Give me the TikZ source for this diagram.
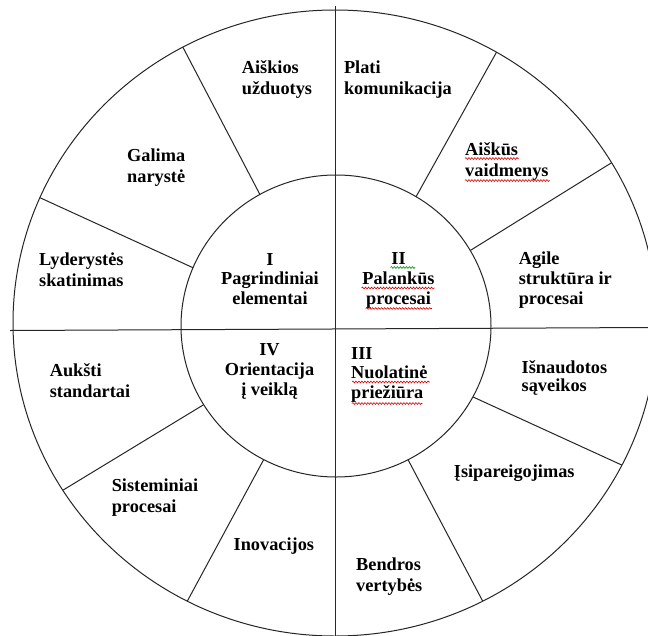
\documentclass[tikz,border=0pt]{standalone}
\usepackage{fontspec}
\setmainfont{Liberation Serif}
\usetikzlibrary{calc,decorations.pathmorphing}
\begin{document}
\begin{tikzpicture}[x=1pt,y=-1pt,
  rim/.style={line width=1pt, draw=black!85},
  lbl/.style={font=\fontsize{18.3}{21}\selectfont\bfseries, align=left,
              anchor=base west, inner sep=0pt, text=black},
  tight/.style={font=\fontsize{18.3}{19.6}\selectfont\bfseries},
  clbl/.style={lbl, tight, align=center, anchor=base},
  spell/.style={draw=red!85!black, line width=0.6pt, decorate,
                decoration={snake, amplitude=0.9pt, segment length=3pt}},
  gram/.style={spell, draw=green!55!black}]
\useasboundingbox (0,0) rectangle (648,635);
\clip (0,0) rectangle (648,635);
\fill[white] (0,0) rectangle (648,635);

% centres of the two rings
\coordinate (O) at (335,323);
\coordinate (C) at (336,326);

% outer and inner rings
\draw[rim] (O) ellipse [x radius=322, y radius=313];
\draw[rim] (C) ellipse [x radius=155, y radius=151];

% the two axes splitting the wheel into quadrants
\coordinate (axtop) at (335,6);
\coordinate (axbot) at (335,640);
\coordinate (axl) at (10,330.5);
\coordinate (axr) at (652,327.5);
\draw[rim] (axtop) -- (axbot);
\draw[rim] (axl) -- (axr);

% spokes between the rings: inner angle / outer angle
\foreach \n/\a/\b in {1/119.4/118.2, 2/157.3/156.4, 3/58.9/59.9, 4/30/30.8,
                      5/-28/-27, 6/-62.3/-62.7, 7/211.4/212.3, 8/242.2/242.7}{
  \coordinate (in\n) at ({336+155*cos(\a)},{326-151*sin(\a)});
  \coordinate (out\n) at ({335+322*cos(\b)},{323-313*sin(\b)});
  \draw[rim] (in\n) -- (out\n);
}

% outer ring labels (placed by the baseline of their last line)
\node[lbl] (aiskios) at (241.7,94.3) {Aiškios\\užduotys};
\node[lbl] (plati)   at (343.8,94.3) {Plati\\komunikacija};
\node[lbl] (galima)  at (127,182.7)  {Galima\\narystė};
\node[lbl] (aiskus)  at (465,176.7)  {Aiškūs\\vaidmenys};
\node[lbl] (lyder)   at (39,286.7)   {Lyderystės\\skatinimas};
\node[lbl,tight] (agile) at (518.6,304) {Agile\\struktūra ir\\procesai};
\node[lbl] (auksti)  at (49.6,397.7) {Aukšti\\standartai};
\node[lbl,font=\fontsize{18.3}{18.6}\selectfont\bfseries] (isnaud) at (521.5,391.7) {Išnaudotos\\sąveikos};
\node[lbl] (sistem)  at (111.6,512.3) {Sisteminiai\\procesai};
\node[lbl] (isipar)  at (453.7,477.3) {Įsipareigojimas};
\node[lbl] (inov)    at (233.5,550)  {Inovacijos};
\node[lbl] (bendros) at (356,591)    {Bendros\\vertybės};

% inner quadrant labels
\node[clbl] (q1) at (270,304.3)   {I\\Pagrindiniai\\elementai};
\node[clbl] (q2) at (398.5,304)   {II\\Palankūs\\procesai};
\node[clbl] (q4) at (269.5,395)   {IV\\Orientacija\\į veiklą};
\node[lbl,tight] (q3) at (351,398.3) {III\\Nuolatinė\\priežiūra};

% proofing marks under words
\draw[spell] (465,158.5) -- (518.6,158.5);
\draw[spell] (465,180.5) -- (549.6,180.5);
\draw[gram]  (390.5,267.5) -- (415,267.5);
\draw[spell] (361.6,288) -- (434.7,288);
\draw[spell] (365.7,308.5) -- (431.8,308.5);
\draw[spell] (352,382) -- (429.8,382);
\draw[spell] (352,403.5) -- (422.3,403.5);
\end{tikzpicture}
\end{document}
